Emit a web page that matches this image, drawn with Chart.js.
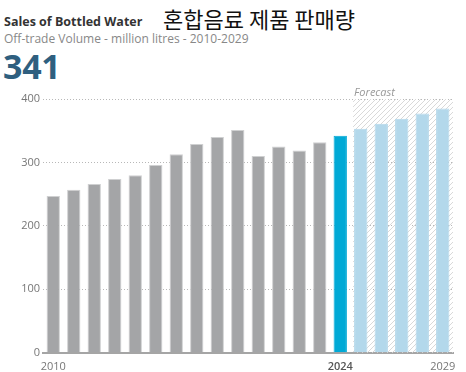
<!DOCTYPE html>
<html>
<head>
<meta charset="utf-8">
<script src="https://cdn.jsdelivr.net/npm/chart.js@4.4.0/dist/chart.umd.min.js"></script>
<style>
  body { margin: 0; background: #fff; width: 466px; height: 372px; overflow: hidden; position: relative; font-family: "Open Sans", sans-serif; }
  .title { position: absolute; left: 4px; top: 13px; font-size: 12.5px; font-weight: 700; color: #333; }
  .korean { position: absolute; left: 163px; top: 2px; font-family: "Noto Sans CJK KR", sans-serif; font-size: 22px; color: #111; }
  .sub { position: absolute; left: 4px; top: 30px; font-size: 12px; color: #888; }
  .big { position: absolute; left: 3px; top: 43px; font-size: 34px; font-weight: 700; color: #2f5f7f; letter-spacing: -0.3px; }
  #wrap { position: absolute; left: 0; top: 0; width: 466px; height: 372px; }
</style>
</head>
<body>
<div class="title">Sales of Bottled Water</div>
<div class="korean">혼합음료 제품 판매량</div>
<div class="sub">Off-trade Volume - million litres - 2010-2029</div>
<div class="big">341</div>
<div id="wrap"><canvas id="waterChart" width="466" height="372"></canvas></div>
<script>
const years = ["2010", "2011", "2012", "2013", "2014", "2015", "2016", "2017", "2018", "2019",
  "2020", "2021", "2022", "2023", "2024", "2025", "2026", "2027", "2028", "2029"];
const actualVolume = [247, 257, 266, 274, 280, 296, 313, 329, 340, 351, 310, 325, 319, 332, 342];
const forecastVolume = [353, 361, 369, 377, 385];
const shownYears = ["2010", "2024", "2029"];
const yTicks = [0, 100, 200, 300, 400];

const volume = actualVolume.concat(forecastVolume);
const lastActual = actualVolume.length - 1;

const barColors = volume.map((v, i) => {
  if (i < lastActual) return "#a4a5a7";
  if (i === lastActual) return "#00a9d6";
  return "#b3d8eb";
});
const edgeColors = volume.map((v, i) => i < lastActual ? "#cfd0d1" : barColors[i]);

function hatchPattern(ctx) {
  const c = document.createElement("canvas");
  c.width = 5;
  c.height = 5;
  const p = c.getContext("2d");
  p.strokeStyle = "#d9d9d9";
  p.lineWidth = 1;
  p.beginPath();
  p.moveTo(0, 5);
  p.lineTo(5, 0);
  p.moveTo(-1, 1);
  p.lineTo(1, -1);
  p.moveTo(4, 6);
  p.lineTo(6, 4);
  p.stroke();
  return ctx.createPattern(c, "repeat");
}

const forecastZone = {
  id: "forecastZone",
  beforeDatasetsDraw(chart) {
    const { ctx, chartArea, scales } = chart;
    const meta = chart.getDatasetMeta(0);
    const firstBar = meta.data[actualVolume.length];
    const left = firstBar.x - firstBar.width / 2 - 1;
    const top = scales.y.getPixelForValue(400);
    ctx.save();
    ctx.fillStyle = hatchPattern(ctx);
    ctx.fillRect(left, top, chartArea.right - left, chartArea.bottom - top);
    ctx.fillStyle = "#999";
    ctx.font = "italic 11px 'Open Sans', sans-serif";
    ctx.textBaseline = "bottom";
    ctx.fillText("Forecast", left + 1, top - 1);
    ctx.restore();
  }
};

new Chart(document.getElementById("waterChart"), {
  type: "bar",
  data: {
    labels: years,
    datasets: [{
      data: volume,
      backgroundColor: barColors,
      borderColor: edgeColors,
      borderWidth: 1,
      barPercentage: 0.65,
      categoryPercentage: 1
    }]
  },
  options: {
    responsive: false,
    animation: false,
    layout: { padding: { top: 99, right: 13, bottom: 0, left: 0 } },
    plugins: { legend: { display: false }, tooltip: { enabled: false } },
    scales: {
      x: {
        grid: { display: false },
        border: { color: "#a5a5a5", width: 2 },
        ticks: {
          autoSkip: false,
          maxRotation: 0,
          padding: -1,
          color: ctx => ctx.tick && ctx.tick.label === "2024" ? "#555" : "#777",
          font: ctx => ({ family: "'Open Sans', sans-serif", size: 11, weight: ctx.tick && ctx.tick.label === "2024" ? 600 : "normal" }),
          callback: function (value) {
            const label = this.getLabelForValue(value);
            return shownYears.includes(label) ? label : "";
          }
        }
      },
      y: {
        min: 0,
        max: 400,
        afterBuildTicks: scale => { scale.ticks = yTicks.map(v => ({ value: v })); },
        afterFit: scale => { scale.width = 43; },
        border: { display: false, dash: [1, 2] },
        grid: { color: "#b8b8b8", drawTicks: false },
        ticks: { padding: 3, color: "#777", font: { family: "'Open Sans', sans-serif", size: 11 } }
      }
    }
  },
  plugins: [forecastZone]
});
</script>
</body>
</html>
